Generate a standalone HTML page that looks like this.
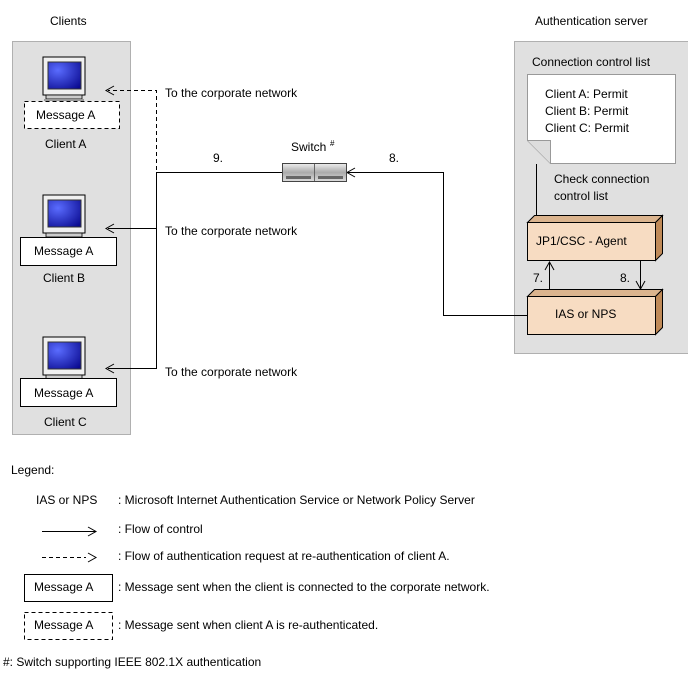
<!DOCTYPE html>
<html><head><meta charset="utf-8"><style>
body{margin:0;background:#fff;}
svg text{font-family:"Liberation Sans",sans-serif;font-size:12px;fill:#000;}
</style></head><body>
<svg width="688" height="677" viewBox="0 0 688 677" xmlns="http://www.w3.org/2000/svg">
<defs>
<radialGradient id="scr" cx="0.3" cy="0.3" r="0.9"><stop offset="0" stop-color="#5a6cff"/><stop offset="1" stop-color="#0a0a90"/></radialGradient>
<g id="mon">
<rect x="0" y="0" width="42" height="38" fill="#f0f0f0" stroke="#000"/>
<rect x="5" y="5" width="33" height="27" fill="url(#scr)" stroke="#333"/>
<rect x="3" y="38" width="36" height="4" fill="#ccc" stroke="#000" stroke-width="0.8"/>
<rect x="1" y="42" width="40" height="2" fill="#999"/>
</g>
<linearGradient id="sw" x1="0" y1="0" x2="0" y2="1"><stop offset="0" stop-color="#eee"/><stop offset="0.5" stop-color="#aaa"/><stop offset="1" stop-color="#ddd"/></linearGradient>
</defs>
<text x="50" y="25">Clients</text>
<text x="535" y="25">Authentication server</text>
<rect x="12.5" y="41.5" width="118" height="393" fill="#e0e0e0" stroke="#b0b0b0"/>
<rect x="514.5" y="41.5" width="180" height="312" fill="#e0e0e0" stroke="#b0b0b0"/>

<use href="#mon" x="43" y="57"/>
<rect x="24.5" y="101.5" width="95" height="27" fill="#fff" stroke="#000" stroke-dasharray="4,3"/>
<text x="36" y="119">Message A</text>
<text x="45" y="148">Client A</text>
<use href="#mon" x="43" y="195"/>
<rect x="20.5" y="237.5" width="96" height="28" fill="#fff" stroke="#000"/>
<text x="34" y="255">Message A</text>
<text x="43" y="282">Client B</text>
<use href="#mon" x="43" y="337"/>
<rect x="20.5" y="378.5" width="96" height="28" fill="#fff" stroke="#000"/>
<text x="34" y="397">Message A</text>
<text x="44" y="426">Client C</text>

<g stroke="#000" fill="none">
<path d="M156.5 170V90.5H108" stroke-dasharray="4,3"/>
<path d="M114 86L106 90.5L114 95"/>
<path d="M282 172.5H156.5V368.5H108M156.5 228.5H108"/>
<path d="M114 224L106 228.5L114 233M114 364L106 368.5L114 373"/>
<path d="M347 172.5H443.5V315.5H527"/>
<path d="M355 168L347 172.5L355 177"/>
<path d="M536.5 164V215"/>
</g>
<text x="165" y="97">To the corporate network</text>
<text x="165" y="235">To the corporate network</text>
<text x="165" y="376">To the corporate network</text>
<text x="213" y="162">9.</text>
<text x="389" y="162">8.</text>
<text x="291" y="151">Switch</text><text x="330" y="146" style="font-size:8px">#</text>
<rect x="282.5" y="163.5" width="64" height="18" fill="url(#sw)" stroke="#444"/>
<line x1="314.5" y1="164" x2="314.5" y2="181" stroke="#666"/>
<rect x="286" y="176" width="25" height="3" fill="#666"/><rect x="318" y="176" width="25" height="3" fill="#666"/>

<text x="532" y="66">Connection control list</text>
<path d="M527.5 74.5H675.5V163.5H550.5L527.5 140.5Z" fill="#fff" stroke="#999"/>
<path d="M527.5 140.5H550.5V163.5" fill="#ddd" stroke="#999"/>
<text x="545" y="98">Client A: Permit</text>
<text x="545" y="115">Client B: Permit</text>
<text x="545" y="132">Client C: Permit</text>
<text x="554" y="183">Check connection</text>
<text x="554" y="200">control list</text>

<path d="M527.5 222.5L534.5 215.5H662.5L655.5 222.5Z" fill="#dbb48e" stroke="#000"/>
<path d="M655.5 222.5L662.5 215.5V253.5L655.5 260.5Z" fill="#c08a58" stroke="#000"/>
<rect x="527.5" y="222.5" width="128" height="38" fill="#f7dcc2" stroke="#000"/>
<text x="536" y="245">JP1/CSC - Agent</text>
<path d="M527.5 296.5L534.5 289.5H662.5L655.5 296.5Z" fill="#dbb48e" stroke="#000"/>
<path d="M655.5 296.5L662.5 289.5V327.5L655.5 334.5Z" fill="#c08a58" stroke="#000"/>
<rect x="527.5" y="296.5" width="128" height="38" fill="#f7dcc2" stroke="#000"/>
<text x="555" y="318">IAS or NPS</text>
<g stroke="#000" fill="none">
<path d="M549.5 289V262M545 270L549.5 262L554 270"/>
<path d="M640.5 261V289M636 281L640.5 289L645 281"/>
</g>
<text x="533" y="282">7.</text>
<text x="620" y="282">8.</text>

<text x="11" y="474">Legend:</text>
<text x="36" y="504">IAS or NPS</text>
<text x="118" y="504">: Microsoft Internet Authentication Service or Network Policy Server</text>
<g stroke="#000" fill="none">
<path d="M42 531.5H96M88 527L96 531.5L88 536"/>
<path d="M42 557.5H86" stroke-dasharray="4,3"/><path d="M88 553L96 557.5L88 562"/>
</g>
<text x="118" y="533">: Flow of control</text>
<text x="118" y="560">: Flow of authentication request at re-authentication of client A.</text>
<rect x="24.5" y="574.5" width="88" height="27" fill="#fff" stroke="#000"/>
<text x="34" y="591">Message A</text>
<text x="118" y="591">: Message sent when the client is connected to the corporate network.</text>
<rect x="24.5" y="612.5" width="88" height="27" fill="#fff" stroke="#000" stroke-dasharray="4,3"/>
<text x="34" y="629">Message A</text>
<text x="118" y="629">: Message sent when client A is re-authenticated.</text>
<text x="3" y="666">#: Switch supporting IEEE 802.1X authentication</text>
</svg>
</body></html>
